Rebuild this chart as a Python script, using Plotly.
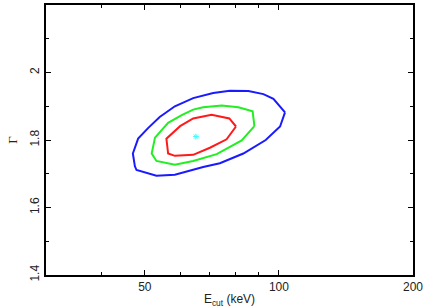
import plotly.graph_objects as go

# Contour data (E_cut in keV, Gamma)
blue_x = [103.2, 100.6, 93.4, 83.2, 73.7, 67.6, 58.4, 53.1, 47.9, 47.5, 47.0, 48.3, 50.9, 54.0, 58.4, 64.2, 71.2, 77.6, 85.4, 92.3, 97.2, 103.2]
blue_y = [1.882, 1.840, 1.800, 1.760, 1.731, 1.720, 1.697, 1.694, 1.711, 1.722, 1.760, 1.804, 1.836, 1.868, 1.900, 1.924, 1.939, 1.946, 1.945, 1.936, 1.922, 1.882]

green_x = [88.1, 87.3, 81.1, 74.4, 67.6, 64.2, 60.5, 56.4, 52.7, 51.8, 53.1, 58.4, 64.2, 72.5, 82.5, 88.1]
green_y = [1.841, 1.885, 1.897, 1.902, 1.897, 1.890, 1.874, 1.851, 1.807, 1.760, 1.738, 1.727, 1.738, 1.758, 1.799, 1.841]

red_x = [80.1, 77.4, 70.6, 64.2, 60.0, 55.9, 56.4, 58.4, 64.2, 70.0, 76.3, 80.1]
red_y = [1.840, 1.864, 1.875, 1.864, 1.841, 1.804, 1.760, 1.753, 1.756, 1.777, 1.802, 1.840]

best_x = [65.1]
best_y = [1.81]

x_ticks = [50, 100, 200]
x_minor = [40, 60, 70, 80, 90]
y_ticks = [1.4, 1.6, 1.8, 2.0]
y_ticktext = ["1.4", "1.6", "1.8", "2"]
y_minor = [1.5, 1.7, 1.9, 2.1]

fig = go.Figure()
fig.add_trace(go.Scatter(x=blue_x, y=blue_y, mode="lines", line=dict(color="#1a1aff", width=2)))
fig.add_trace(go.Scatter(x=green_x, y=green_y, mode="lines", line=dict(color="#22ee22", width=2)))
fig.add_trace(go.Scatter(x=red_x, y=red_y, mode="lines", line=dict(color="#ff1a1a", width=2)))
fig.add_trace(go.Scatter(x=best_x, y=best_y, mode="markers",
                         marker=dict(symbol="asterisk", size=5, color="#33ffff",
                                     line=dict(color="#33ffff", width=1))))

font = dict(family="Liberation Sans, Arial, sans-serif", size=12, color="#222222")

fig.update_layout(
    width=431, height=308,
    margin=dict(l=46, r=18, t=3, b=33),
    paper_bgcolor="white", plot_bgcolor="white",
    showlegend=False,
    font=font,
    xaxis=dict(
        type="log", range=[1.4771, 2.30103],
        tickvals=x_ticks, ticktext=[str(v) for v in x_ticks],
        ticks="inside", ticklen=5, tickwidth=1, tickcolor="black",
        minor=dict(tickvals=x_minor, ticks="inside", ticklen=3, tickcolor="black", tickwidth=1),
        showline=True, linecolor="black", linewidth=1.5, mirror="ticks",
        showgrid=False, zeroline=False,
        title=dict(text="E<sub>cut</sub> (keV)", standoff=2, font=font),
    ),
    yaxis=dict(
        range=[1.4, 2.2],
        tickvals=y_ticks, ticktext=y_ticktext, tickangle=-90,
        ticks="inside", ticklen=5, tickwidth=1, tickcolor="black",
        minor=dict(tickvals=y_minor, ticks="inside", ticklen=3, tickcolor="black", tickwidth=1),
        showline=True, linecolor="black", linewidth=1.5, mirror="ticks",
        showgrid=False, zeroline=False,
        title=dict(text="Γ", standoff=8, font=dict(family="Liberation Serif, serif", size=13, color="#222222")),
    ),
)

fig.write_html("out.html", config={"displayModeBar": False},
               post_script="document.body.style.margin='0px';document.body.style.overflow='hidden';")
